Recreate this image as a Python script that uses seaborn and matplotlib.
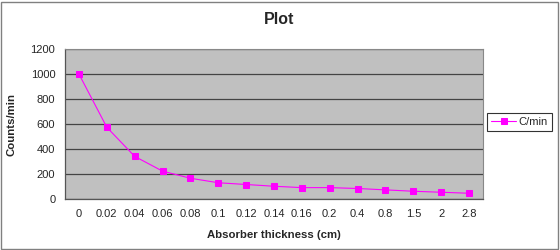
import matplotlib
matplotlib.use("Agg")
import matplotlib.pyplot as plt
import seaborn as sns
import pandas as pd
import numpy as np
from matplotlib.patches import Rectangle

thickness = ["0", "0.02", "0.04", "0.06", "0.08", "0.1", "0.12", "0.14",
             "0.16", "0.2", "0.4", "0.8", "1.5", "2", "2.8"]
counts = [1000, 574, 341, 223, 166, 130, 116, 102, 91, 91, 84, 73, 62, 54, 46]
y_ticks = [0, 200, 400, 600, 800, 1000, 1200]

df = pd.DataFrame({"pos": np.arange(len(thickness)), "C/min": counts})

sns.set_style("white")
plt.rcParams['font.family'] = ['Liberation Sans', 'DejaVu Sans']

fig = plt.figure(figsize=(5.6, 2.5), dpi=100)
ax = fig.add_axes([65/560, 51/250, 418/560, 150/250])
ax.set_facecolor("#C0C0C0")

sns.lineplot(data=df, x="pos", y="C/min", ax=ax, color="#FF00FF", lw=0.8,
             marker="s", markersize=5, markeredgecolor="#FF00FF",
             label="C/min", zorder=3)

ax.set_xlim(-0.5, len(thickness) - 0.5)
ax.set_ylim(0, 1200)
ax.set_yticks(y_ticks)
ax.set_yticklabels([str(v) for v in y_ticks], fontsize=8)
ax.set_xticks(np.arange(len(thickness)))
ax.set_xticklabels(thickness, fontsize=8)
ax.tick_params(axis="x", which="major", length=0, pad=7)
ax.set_xticks(np.arange(len(thickness) + 1) - 0.5, minor=True)
ax.tick_params(axis="x", which="minor", length=3, width=0.8, color="#555555", direction="out")
ax.tick_params(axis="y", length=3, width=0.8, color="#555555", direction="out", pad=4)
ax.grid(axis="y", color="#444444", lw=0.9)
ax.set_axisbelow(True)
for side in ["top", "right"]:
    ax.spines[side].set_color("#888888")
    ax.spines[side].set_linewidth(0.8)
for side in ["left", "bottom"]:
    ax.spines[side].set_color("#555555")
    ax.spines[side].set_linewidth(0.9)

ax.set_xlabel("Absorber thickness (cm)", fontsize=8.2, fontweight="bold", labelpad=8)
ax.set_ylabel("Counts/min", fontsize=8.2, fontweight="bold", labelpad=10)
fig.text(279/560, 1 - 20/250, "Plot", ha="center", va="center", fontsize=11.5, fontweight="bold")

ax.legend(loc="center left", bbox_to_anchor=(487/560, 1 - 122/250), bbox_transform=fig.transFigure,
          frameon=True, fancybox=False, edgecolor="black", fontsize=8,
          handlelength=2.2, handletextpad=0.2, borderpad=0.4, borderaxespad=0)
ax.get_legend().get_frame().set_linewidth(0.8)

fig.patches.append(Rectangle((0.002, 0.004), 0.994, 0.99, transform=fig.transFigure,
                             fill=False, edgecolor="#808080", lw=1))

fig.savefig("out.png", dpi=100)
